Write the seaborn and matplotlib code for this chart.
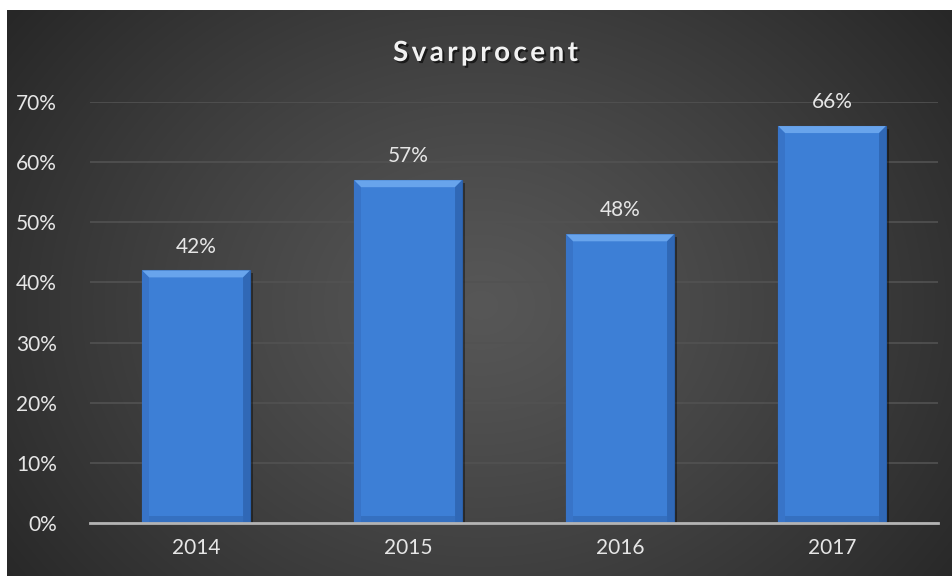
import numpy as np
import pandas as pd
import matplotlib
matplotlib.use("Agg")
import matplotlib.pyplot as plt
import seaborn as sns
from matplotlib.ticker import FuncFormatter
from matplotlib.patches import Polygon
import matplotlib.patheffects as pe

years = ["2014", "2015", "2016", "2017"]
rates = [42, 57, 48, 66]
title = "Svarprocent"

df = pd.DataFrame({"year": years, "rate": rates})

sns.set_theme(style="dark")
plt.rcParams["font.family"] = ["Lato", "DejaVu Sans"]

W, H = 953, 578
fig = plt.figure(figsize=(W / 100, H / 100), dpi=100, facecolor="white")

# dark radial background panel
bg = fig.add_axes([7 / W, 2 / H, (W - 7) / W, (H - 12) / H])
bg.set_axis_off()
ny, nx = 300, 500
yy, xx = np.mgrid[0:ny, 0:nx]
cx, cy = nx * 0.5, ny * 0.52
d = np.sqrt(((xx - cx) / (nx * 0.62)) ** 2 + ((yy - cy) / (ny * 0.85)) ** 2)
d = np.clip(d, 0, 1)
val = 0.34 - (0.34 - 0.155) * d ** 1.2
img = np.dstack([val, val, val])
bg.imshow(img, aspect="auto", extent=[0, 1, 0, 1], interpolation="bilinear")

# plot area
x0, x1 = 90, 938
ytop_px, ybot_px = 102, 523
ax = fig.add_axes([x0 / W, (H - ybot_px) / H, (x1 - x0) / W, (ybot_px - ytop_px) / H])
ax.set_facecolor("none")

sns.barplot(data=df, x="year", y="rate", ax=ax, color="#3D7FD6", width=0.51,
            edgecolor="#2A5FA8", linewidth=0.8, saturation=1)

ax.set_ylim(0, 70)
ax.set_xlim(-0.5, 3.5)

# bevel effect derived from each bar's geometry
px_x = 4 / (x1 - x0)
px_y = 70 / (ybot_px - ytop_px)
bv = 7
for p in ax.patches:
    bx, bw, bh = p.get_x(), p.get_width(), p.get_height()
    dx, dy = bv * px_x, bv * px_y
    L, R, T, B = bx, bx + bw, bh, 0
    z = p.get_zorder() + 0.1
    top = Polygon([(L, T), (R, T), (R - dx, T - dy), (L + dx, T - dy)],
                  closed=True, facecolor="#68A4EC", edgecolor="none", zorder=z)
    left = Polygon([(L, T), (L + dx, T - dy), (L + dx, B), (L, B)],
                   closed=True, facecolor="#3874C8", edgecolor="none", zorder=z)
    right = Polygon([(R, T), (R - dx, T - dy), (R - dx, B), (R, B)],
                    closed=True, facecolor="#3068B6", edgecolor="none", zorder=z)
    bot = Polygon([(L + dx, B + dy), (R - dx, B + dy), (R - dx, B), (L + dx, B)],
                  closed=True, facecolor="#3570C0", edgecolor="none", zorder=z)
    for poly in (top, left, right, bot):
        ax.add_patch(poly)
    p.set_path_effects([pe.SimplePatchShadow(offset=(2, -2), shadow_rgbFace="black", alpha=0.4), pe.Normal()])

ax.set_yticks(range(0, 71, 10))
ax.yaxis.set_major_formatter(FuncFormatter(lambda v, p: f"{int(v)}%"))
ax.grid(axis="y", color="#525252", linewidth=1.2)
ax.grid(axis="x", visible=False)
ax.set_axisbelow(True)
for s in ["top", "right", "left"]:
    ax.spines[s].set_visible(False)
ax.spines["bottom"].set_color("#B4B4B4")
ax.spines["bottom"].set_linewidth(2)
ax.spines["bottom"].set_zorder(5)
ax.set_xlabel("")
ax.set_ylabel("")
ax.tick_params(axis="both", colors="#E6E6E6", labelsize=15, length=0)
ax.tick_params(axis="x", pad=11)
ax.tick_params(axis="y", pad=24)

for cont in ax.containers:
    ax.bar_label(cont, labels=[f"{v}%" for v in rates], padding=10,
                 color="#E6E6E6", fontsize=15)

# letter-spaced bold title with soft shadow
fs = 20
renderer = fig.canvas.get_renderer()
widths = []
tmp = []
for ch in title:
    t = fig.text(0, 0, ch, fontsize=fs, fontweight="bold")
    widths.append(t.get_window_extent(renderer).width)
    tmp.append(t)
for t in tmp:
    t.remove()
target_w = 185
spacing = (target_w - sum(widths)) / (len(title) - 1)
total = sum(widths) + spacing * (len(title) - 1)
cxp = 485.5
xs = cxp - total / 2
ty = H - 53
for ch, w in zip(title, widths):
    fig.text(xs / W, ty / H, ch, fontsize=fs, fontweight="bold", color="#F2F2F2",
             ha="left", va="center",
             path_effects=[pe.withSimplePatchShadow(offset=(1.5, -1.5), shadow_rgbFace="black", alpha=0.6)])
    xs += w + spacing

fig.savefig("out.png", dpi=100, facecolor="white")
